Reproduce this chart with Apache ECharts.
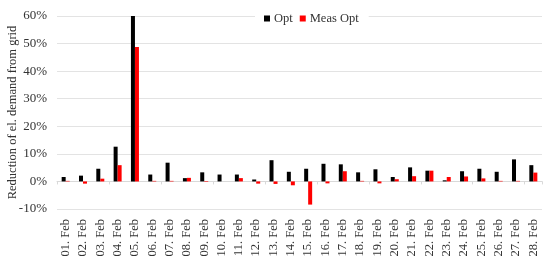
<!DOCTYPE html>
<html>
<head>
<meta charset="utf-8">
<script src="https://cdn.jsdelivr.net/npm/echarts@6/dist/echarts.min.js"></script>
<style>
  html, body { margin: 0; padding: 0; background: #fff; }
  #chart { width: 550px; height: 261px; }
</style>
</head>
<body>
<div id="chart"></div>
<script>
const days = ['01. Feb', '02. Feb', '03. Feb', '04. Feb', '05. Feb', '06. Feb', '07. Feb',
  '08. Feb', '09. Feb', '10. Feb', '11. Feb', '12. Feb', '13. Feb', '14. Feb',
  '15. Feb', '16. Feb', '17. Feb', '18. Feb', '19. Feb', '20. Feb', '21. Feb',
  '22. Feb', '23. Feb', '24. Feb', '25. Feb', '26. Feb', '27. Feb', '28. Feb']

// reduction in %
const opt = [1.6, 2.1, 4.6, 12.6, 60, 2.5, 6.8, 1.2, 3.3, 2.5, 2.5, 0.7, 7.7, 3.5,
  4.6, 6.4, 6.2, 3.3, 4.4, 1.6, 5.1, 3.9, 0.4, 3.7, 4.6, 3.5, 8.0, 5.9]
const measOpt = [0.2, -0.8, 1.0, 5.9, 48.8, 0.2, 0.2, 1.3, -0.2, 0, 1.2, -0.8, -0.9, -1.4,
  -8.4, -0.7, 3.7, 0.2, -0.7, 0.8, 1.9, 3.9, 1.6, 1.8, 1.1, 0.2, 0.2, 3.2]

const yTicks = { min: -10, max: 60, step: 10 }

const font = '"Liberation Serif", "Times New Roman", serif'
const textColor = '#333'

const chart = echarts.init(document.getElementById('chart'))

const option = {
  animation: false,
  textStyle: { fontFamily: font },
  grid: { left: 57, right: 8, top: 16, bottom: 52, outerBoundsMode: 'none' },
  legend: {
    data: ['Opt', 'Meas Opt'],
    left: 255,
    top: 10,
    padding: [2, 10, 2, 9],
    backgroundColor: '#fff',
    icon: 'rect',
    itemWidth: 6,
    itemHeight: 6,
    itemGap: 7,
    textStyle: { fontFamily: font, fontSize: 12.5, color: textColor, padding: [0, 0, 0, -1] }
  },
  xAxis: [
    {
      type: 'category',
      data: days,
      position: 'bottom',
      axisLine: { show: false, onZero: false },
      axisTick: { show: false },
      axisLabel: {
        rotate: 90,
        interval: 0,
        margin: 10,
        fontFamily: font,
        fontSize: 12.5,
        color: textColor
      }
    },
    {
      type: 'category',
      data: days,
      position: 'bottom',
      axisLine: { show: true, onZero: true, lineStyle: { color: '#d9d9d9' } },
      axisTick: { show: true, length: 3, lineStyle: { color: '#d9d9d9' } },
      axisLabel: { show: false }
    }
  ],
  yAxis: {
    type: 'value',
    min: yTicks.min,
    max: yTicks.max,
    interval: yTicks.step,
    name: 'Reduction of el. demand from grid',
    nameLocation: 'middle',
    nameGap: 38,
    nameMoveOverlap: false,
    nameTextStyle: { fontFamily: font, fontSize: 12.5, color: textColor },
    axisLine: { show: false },
    axisTick: { show: false },
    axisLabel: {
      formatter: '{value}%',
      margin: 10,
      fontFamily: font,
      fontSize: 13,
      color: textColor
    },
    splitLine: { lineStyle: { color: '#e3e3e3' } }
  },
  series: [
    {
      name: 'Opt',
      type: 'bar',
      data: opt,
      barWidth: 4,
      barGap: '0%',
      itemStyle: { color: '#000' }
    },
    {
      name: 'Meas Opt',
      type: 'bar',
      data: measOpt,
      barWidth: 4,
      barGap: '0%',
      itemStyle: { color: '#ff0000' }
    }
  ]
}

chart.setOption(option)
</script>
</body>
</html>
